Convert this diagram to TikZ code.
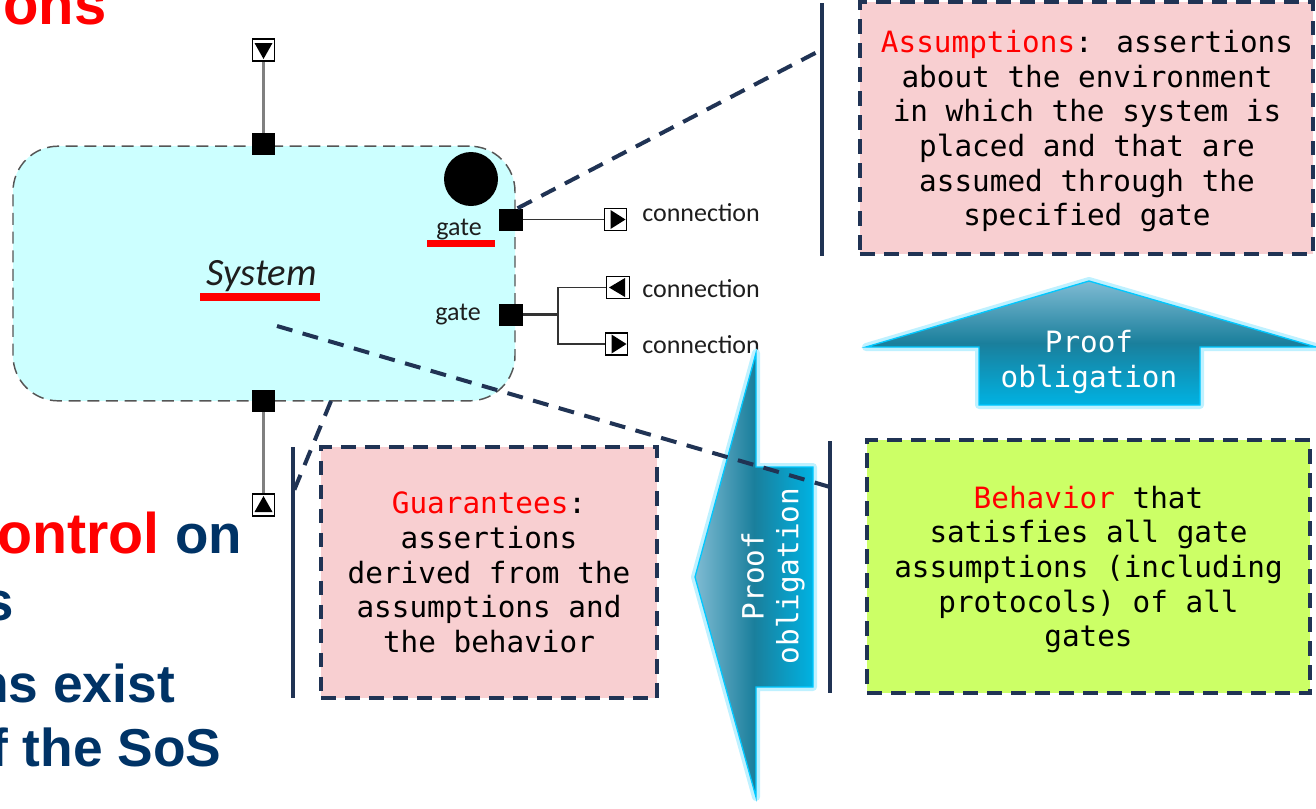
\documentclass[tikz,border=0pt]{standalone}
\usepackage{fontspec}
\setmainfont{Liberation Sans}
\newfontfamily\monofont{DejaVu Sans Mono}
\newfontfamily\labelfont{Carlito}
\usetikzlibrary{calc}

\definecolor{navy}{HTML}{203354}
\definecolor{sysfill}{HTML}{CCFFFF}
\definecolor{sysedge}{HTML}{555555}
\definecolor{pinkfill}{HTML}{F8CFD1}
\definecolor{limefill}{HTML}{CCFF66}
\definecolor{slideblue}{HTML}{003366}
\definecolor{arrowlight}{HTML}{7FBBD3}
\definecolor{arrowmid}{HTML}{1A7F9C}
\definecolor{arrowbase}{HTML}{00B2E2}
\definecolor{arrowedge}{HTML}{00C8FF}
\definecolor{labelink}{HTML}{1E1E1E}

\begin{document}
\begin{tikzpicture}[x=0.75pt,y=-0.75pt,
  sysbox/.style={draw=sysedge, fill=sysfill, line width=1.1pt,
    dash pattern=on 9pt off 5pt, rounded corners=34pt,
    minimum width=376.5pt, minimum height=191pt, inner sep=0},
  gatebox/.style={fill=black, minimum width=17.5pt, minimum height=16.5pt, inner sep=0},
  portbox/.style={draw=black, fill=white, line width=0.9pt,
    minimum width=17pt, minimum height=16.5pt, inner sep=0},
  wire/.style={draw=black!80, line width=1.1pt},
  stemwire/.style={draw=black!50, line width=2pt},
  lbl/.style={font=\labelfont\fontsize{19.5}{22}\selectfont, text=labelink, inner sep=0},
  redbar/.style={fill=red, inner sep=0},
  conn/.style={navy, line width=3pt, dash pattern=on 12pt off 8pt},
  bar/.style={navy, line width=3pt},
  note/.style={draw=navy, line width=3pt, dash pattern=on 11pt off 7pt,
    align=center, font=\monofont\fontsize{22}{26}\selectfont, inner sep=0},
  proofglow/.style={draw=arrowedge!25, line width=6pt, line join=round},
  proofbody/.style={draw=arrowedge, line width=1pt, line join=miter},
  prooftext/.style={align=center, text=white,
    font=\monofont\fontsize{22}{26}\selectfont, inner sep=0},
  slide/.style={font=\bfseries\fontsize{41}{48}\selectfont, anchor=base west, inner sep=0}
]
\useasboundingbox (0,0) rectangle (1316,808);

% ---- slide text around the figure ----
\node[slide, text=red, font=\bfseries\fontsize{43.5}{50}\selectfont] (tA) at (3,24) {ons};
\node[slide, text=red, font=\bfseries\fontsize{43}{50}\selectfont] (tB) at (-3,553) {ontrol};
\node[slide, text=slideblue] (tC) at (175,553) {on};
\node[slide, text=slideblue] (tD) at (-17,620) {s};
\node[slide, text=slideblue, font=\bfseries\fontsize{40}{48}\selectfont] (tE) at (-24,702) {ns exist};
\node[slide, text=slideblue, font=\bfseries\fontsize{40}{48}\selectfont] (tF) at (-10,766) {f the SoS};

% ---- the system block ----
\node[sysbox] (sys) at (264,273.5) {};
\node[circle, fill=black, minimum size=40.5pt, inner sep=0] (state) at (471,179) {};
\node[lbl, font=\labelfont\itshape\fontsize{29}{34}\selectfont, anchor=base] (systxt) at (261.5,285) {System};
\node[redbar, minimum width=90pt, minimum height=6pt] (sysbar) at (260,297) {};

% gates on the border
\node[gatebox] (gtop) at (263.5,144) {};
\node[gatebox] (g1) at (511,219.5) {};
\node[gatebox] (g2) at (511,314.5) {};
\node[gatebox] (gbot) at (263.5,401) {};

\node[lbl, anchor=base] (gl1) at (459,235) {gate};
\node[redbar, minimum width=51pt, minimum height=5.5pt] (gbar) at (461,243.5) {};
\node[lbl, anchor=base] (gl2) at (458,320) {gate};

% connection ends
\node[portbox] (ptop) at (263.5,50) {};
\node[portbox] (pbot) at (263.5,505) {};
\node[portbox] (p1) at (615.5,219.5) {};
\node[portbox] (p2a) at (618,287.5) {};
\node[portbox] (p2b) at (616.5,344) {};

\fill ([shift={(-9,-7)}]ptop.center) -- ([shift={(9,-7)}]ptop.center) -- ([shift={(0,9)}]ptop.center) -- cycle;
\fill ([shift={(0,-9)}]pbot.center) -- ([shift={(9,7)}]pbot.center) -- ([shift={(-9,7)}]pbot.center) -- cycle;
\fill ([shift={(-5,-9.5)}]p1.center) -- ([shift={(10,0)}]p1.center) -- ([shift={(-5,9.5)}]p1.center) -- cycle;
\fill ([shift={(7,-9.5)}]p2a.center) -- ([shift={(-9,0)}]p2a.center) -- ([shift={(7,9.5)}]p2a.center) -- cycle;
\fill ([shift={(-5,-9.5)}]p2b.center) -- ([shift={(10,0)}]p2b.center) -- ([shift={(-5,9.5)}]p2b.center) -- cycle;

\node[lbl, anchor=base west] (c1) at (642,221) {connection};
\node[lbl, anchor=base west] (c2) at (642,297) {connection};
\node[lbl, anchor=base west] (c3) at (642,353) {connection};

% wires
\draw[stemwire] (gtop) -- (ptop);
\draw[stemwire] (gbot) -- (pbot);
\draw[wire] (g1) -- (p1);
\coordinate (br) at (558,314.5);
\draw[wire, line width=1.6pt] (g2) -- (br);
\draw[wire] (p2a.west) -| (br) |- (p2b.west);

% ---- proof obligation arrows ----
\path[proofglow] (866,347) -- (1089,281) -- (1316,347) -- (1200,347) -- (1200,405) -- (979,405) -- (979,347) -- cycle;
\shadedraw[proofbody, top color=arrowlight, bottom color=arrowbase, middle color=arrowmid]
  (866,347) -- (1089,281) -- (1316,347) -- (1200,347) -- (1200,405) -- (979,405) -- (979,347) -- cycle;
\node[prooftext] (po1) at (1089,362) {Proof\\obligation};

\path[proofglow] (695,577) -- (756,353) -- (756,467) -- (813,467) -- (813,687) -- (756,687) -- (756,797) -- cycle;
\shadedraw[proofbody, left color=arrowlight, right color=arrowbase, middle color=arrowmid]
  (695,577) -- (756,353) -- (756,467) -- (813,467) -- (813,687) -- (756,687) -- (756,797) -- cycle;
\node[prooftext, rotate=90] (po2) at (773,576) {Proof\\obligation};

% ---- contract boxes ----
\node[note, fill=pinkfill, minimum width=340pt, minimum height=189pt] (assume) at (1086.5,128) {};
\node[align=center, font=\monofont\fontsize{22}{26}\selectfont, inner sep=0] (assumetxt) at (1087,131)
  {\textcolor{red}{Assumptions}: assertions\\about the environment\\in which the system is\\placed and that are\\assumed through the\\specified gate};
\node[note, fill=pinkfill, minimum width=252pt, minimum height=188pt] (guar) at (489,572.5)
  {\textcolor{red}{Guarantees}:\\assertions\\derived from the\\assumptions and\\the behavior};
\node[note, fill=limefill, minimum width=332pt, minimum height=190pt] (behav) at (1088.5,566.5) {};
\node[align=center, font=\monofont\fontsize{22}{26}\selectfont, inner sep=0] (behavtxt) at (1088.5,569.5)
  {\textcolor{red}{Behavior} that\\satisfies all gate\\assumptions (including\\protocols) of all\\gates};

% ---- brackets and callout lines ----
\coordinate (b1top) at (822,3);   \coordinate (b1bot) at (822,256);
\coordinate (b2top) at (830,441); \coordinate (b2bot) at (830,693);
\coordinate (b3top) at (293,447); \coordinate (b3bot) at (293,698);
\draw[bar] (b1top) -- (b1bot);
\draw[bar] (b2top) -- (b2bot);
\draw[bar] (b3top) -- (b3bot);

\coordinate (hit1) at (821,50);
\coordinate (sysin) at (277,326);
\coordinate (hit2) at (830,487);
\coordinate (sysbase) at (331,401);
\coordinate (hit3) at (293,493);
\draw[conn] ([xshift=-4pt]g1.north east) -- (hit1);
\draw[conn] (sysin) -- (hit2);
\draw[conn] (sysbase) -- (hit3);
\end{tikzpicture}
\end{document}
